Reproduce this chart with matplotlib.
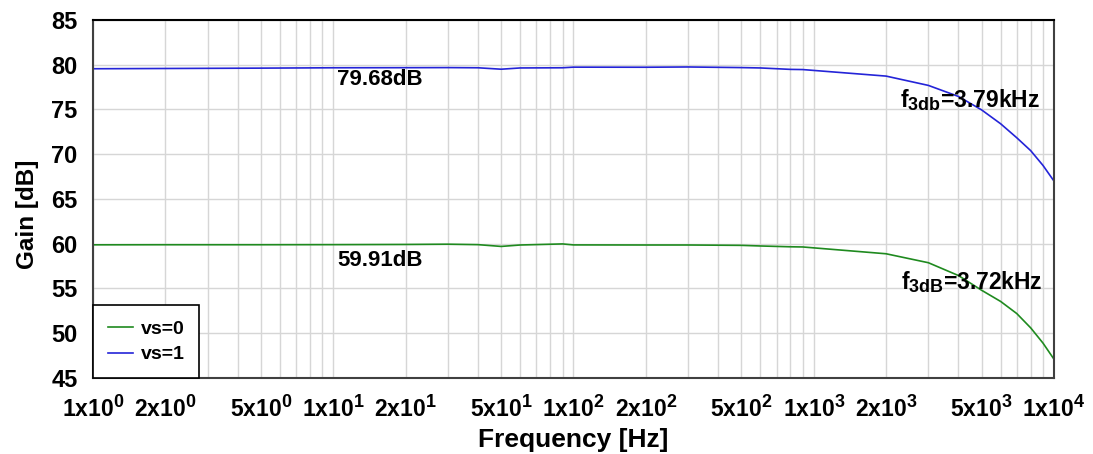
import matplotlib
matplotlib.use("Agg")
import matplotlib.pyplot as plt
import matplotlib._mathtext as _mt
from matplotlib.ticker import FixedLocator, LogLocator, NullFormatter, FixedFormatter

_mt.SHRINK_FACTOR = 0.78

plt.rcParams['font.family'] = ['Liberation Sans', 'DejaVu Sans']
plt.rcParams['font.weight'] = 'bold'
plt.rcParams['mathtext.fontset'] = 'custom'
plt.rcParams['mathtext.rm'] = 'Liberation Sans:bold'
plt.rcParams['mathtext.it'] = 'Liberation Sans:bold'
plt.rcParams['mathtext.bf'] = 'Liberation Sans:bold'
plt.rcParams['mathtext.default'] = 'rm'

# ---- data ----
freq = [1, 2, 5, 10, 20, 30, 40, 50, 60, 90, 100, 200, 300, 500, 600, 800, 900,
        2000, 3000, 4000, 5000, 6000, 7000, 8000, 9000, 10000]
gain_vs1 = [79.55, 79.58, 79.62, 79.66, 79.67, 79.68, 79.66, 79.50, 79.64, 79.66, 79.73,
            79.72, 79.75, 79.68, 79.64, 79.48, 79.46,
            78.73, 77.69, 76.46, 74.95, 73.40, 71.84, 70.40, 68.75, 67.00]
gain_vs0 = [59.88, 59.89, 59.89, 59.90, 59.92, 59.95, 59.90, 59.70, 59.86, 59.98, 59.87,
            59.86, 59.86, 59.82, 59.75, 59.66, 59.64,
            58.88, 57.88, 56.45, 54.80, 53.55, 52.20, 50.60, 48.90, 47.10]
xtick_vals = [1, 2, 5, 10, 20, 50, 100, 200, 500, 1000, 2000, 5000, 10000]
xtick_labels = [r'$1x10^{0}$', r'$2x10^{0}$', r'$5x10^{0}$', r'$1x10^{1}$', r'$2x10^{1}$',
                r'$5x10^{1}$', r'$1x10^{2}$', r'$2x10^{2}$', r'$5x10^{2}$', r'$1x10^{3}$',
                r'$2x10^{3}$', r'$5x10^{3}$', r'$1x10^{4}$']
ytick_vals = [45, 50, 55, 60, 65, 70, 75, 80, 85]
series_labels = ['vs=0', 'vs=1']
annot_gain = ['79.68dB', '59.91dB']
annot_f3db = [r'$f_{3db}$=3.79kHz', r'$f_{3dB}$=3.72kHz']

fig = plt.figure(figsize=(10.93, 4.54), dpi=100)
ax = fig.add_axes([0.0851, 0.1674, 0.8792, 0.7886])

ax.plot(freq, gain_vs0, color='#1f8a1f', lw=1.2, label=series_labels[0])
ax.plot(freq, gain_vs1, color='#2424d8', lw=1.2, label=series_labels[1])

ax.set_xscale('log')
ax.set_xlim(1, 10000)
ax.set_ylim(45, 85)

ax.xaxis.set_major_locator(FixedLocator(xtick_vals))
ax.xaxis.set_major_formatter(FixedFormatter(xtick_labels))
ax.xaxis.set_minor_locator(LogLocator(base=10, subs=range(1, 10), numticks=100))
ax.xaxis.set_minor_formatter(NullFormatter())
ax.set_yticks(ytick_vals)

ax.grid(True, which='both', axis='x', color='#d6d6d6', lw=1.0)
ax.grid(True, which='major', axis='y', color='#d6d6d6', lw=1.0)
ax.set_axisbelow(True)

ax.tick_params(axis='both', which='both', length=0)
ax.tick_params(axis='x', labelsize=16.5, pad=13)
ax.tick_params(axis='y', labelsize=17, pad=11)
for lab in ax.get_yticklabels():
    lab.set_fontweight('bold')

for side in ['left', 'bottom', 'top', 'right']:
    ax.spines[side].set_linewidth(1.5)
ax.spines['left'].set_color('#404040')
ax.spines['bottom'].set_color('#404040')
ax.spines['top'].set_color('#000000')
ax.spines['right'].set_color('#404040')

ax.set_xlabel('Frequency [Hz]', fontsize=19, fontweight='bold', labelpad=4)
ax.set_ylabel('Gain [dB]', fontsize=17.5, fontweight='bold')
ax.yaxis.set_label_coords(-0.0562, 0.458)

ax.text(10.4, 78.35, annot_gain[0], fontsize=16, fontweight='bold', ha='left', va='center')
ax.text(10.4, 58.13, annot_gain[1], fontsize=16, fontweight='bold', ha='left', va='center')
ax.text(2280, 76.1, annot_f3db[0], fontsize=16.5, ha='left', va='center')
ax.text(2300, 55.68, annot_f3db[1], fontsize=16.5, ha='left', va='center')

leg = ax.legend(loc='lower left', bbox_to_anchor=(0, 0), borderaxespad=0.0,
                fancybox=False, edgecolor='black', framealpha=1,
                prop={'size': 14, 'weight': 'bold'}, handlelength=1.3,
                handletextpad=0.4, borderpad=0.75, labelspacing=0.42)
leg.get_frame().set_linewidth(1.2)

fig.savefig('out.png', dpi=100)
